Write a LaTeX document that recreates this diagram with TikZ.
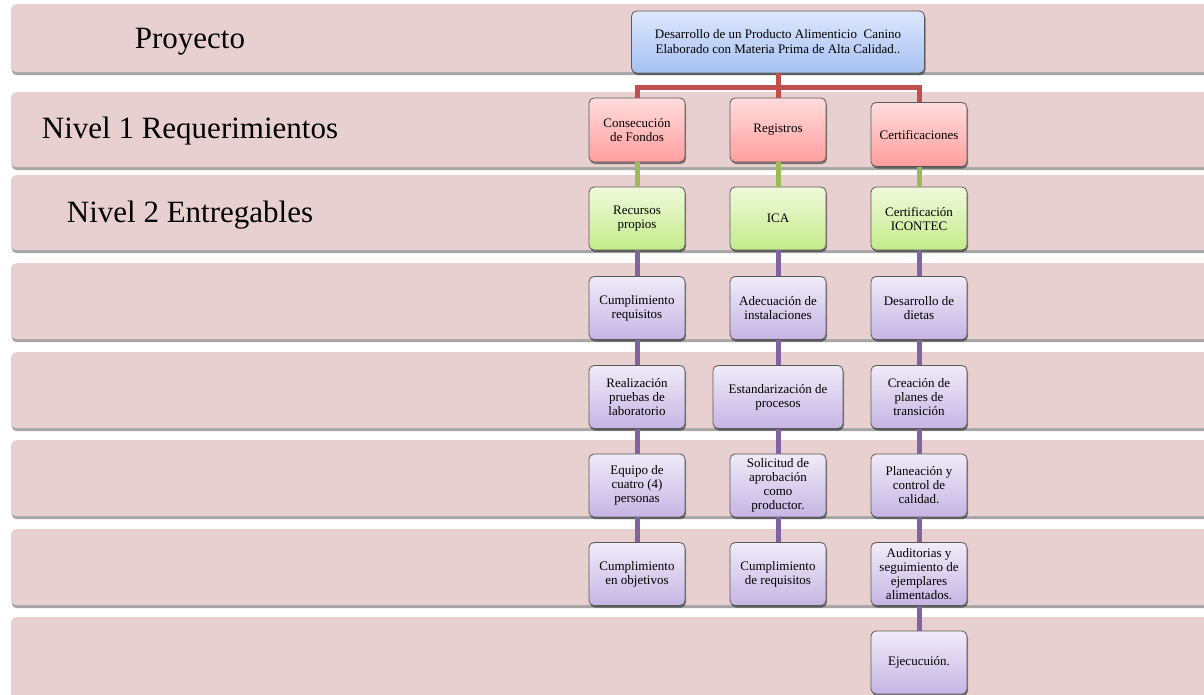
\documentclass[tikz,border=0pt]{standalone}
\usepackage{fontspec}
\setmainfont{Liberation Serif}
\usetikzlibrary{shadows,calc}
\definecolor{bandfill}{HTML}{E8D0D0}
\definecolor{bluetop}{HTML}{DDE7FC}
\definecolor{bluebot}{HTML}{A6C1F3}
\definecolor{pinktop}{HTML}{FFDCDC}
\definecolor{pinkbot}{HTML}{FF9E9E}
\definecolor{greentop}{HTML}{F0F9DC}
\definecolor{greenbot}{HTML}{C4EB8A}
\definecolor{purptop}{HTML}{F0EBF8}
\definecolor{purpbot}{HTML}{C6B5E4}
\definecolor{redln}{HTML}{C0504D}
\definecolor{greenln}{HTML}{9BBB59}
\definecolor{purpln}{HTML}{8064A2}
\begin{document}
\begin{tikzpicture}[x=1pt,y=-1pt,
  band/.style={rectangle, rounded corners=5pt, fill=bandfill, anchor=north west, inner sep=0pt, minimum width=1220pt,
    drop shadow={shadow xshift=0.5pt, shadow yshift=-3pt, opacity=0.35, fill=black}},
  lvllabel/.style={anchor=base, font=\fontsize{31}{34}\selectfont},
  box/.style={rectangle, rounded corners=5pt, draw=black!65, line width=0.8pt, align=center,
    font=\fontsize{13}{14}\selectfont, minimum width=96pt, minimum height=63pt, inner sep=2pt,
    drop shadow={shadow xshift=1pt, shadow yshift=-2pt, opacity=0.45, fill=black}},
  topbox/.style={box, top color=bluetop, bottom color=bluebot, font=\fontsize{13}{15}\selectfont,
    minimum width=293pt, minimum height=62pt},
  reqbox/.style={box, top color=pinktop, bottom color=pinkbot, minimum height=64pt},
  entbox/.style={box, top color=greentop, bottom color=greenbot},
  actbox/.style={box, top color=purptop, bottom color=purpbot},
  redline/.style={draw=redln, line width=5pt},
  greenline/.style={draw=greenln, line width=5pt},
  purpline/.style={draw=purpln, line width=5pt}
]
\useasboundingbox (0,0) rectangle (1204,694);
\clip (0,0) rectangle (1204,694);
\fill[white] (0,0) rectangle (1204,694);
% bands
\node[band, minimum height=68pt] (band1) at (11,4) {};
\node[band, minimum height=75pt] (band2) at (11,92) {};
\node[band, minimum height=75pt] (band3) at (11,175) {};
\node[band, minimum height=76pt] (band4) at (11,263) {};
\node[band, minimum height=76pt] (band5) at (11,352) {};
\node[band, minimum height=76pt] (band6) at (11,440) {};
\node[band, minimum height=76pt] (band7) at (11,529) {};
\node[band, minimum height=90pt] (band8) at (11,617) {};
% labels
\node[lvllabel] (lab1) at (190,48) {Proyecto};
\node[lvllabel] (lab2) at (190,138) {Nivel 1 Requerimientos};
\node[lvllabel] (lab3) at (190,222) {Nivel 2 Entregables};
% nodes
\node[topbox] (top) at (778,42) {Desarrollo de un Producto Alimenticio\ \ Canino\\Elaborado con Materia Prima de Alta Calidad..};
\node[reqbox] (c1) at (637,130) {Consecución\\de Fondos};
\node[reqbox] (c2) at (778,130) {Registros};
\node[reqbox] (c3) at (919,134.5) {Certificaciones};
\node[entbox] (d1) at (637,218.5) {Recursos\\propios};
\node[entbox] (d2) at (778,218.5) {ICA};
\node[entbox] (d3) at (919,218.5) {Certificación\\ICONTEC};
\node[actbox] (e1) at (637,308) {Cumplimiento\\requisitos};
\node[actbox] (e2) at (778,308) {Adecuación de\\instalaciones};
\node[actbox] (e3) at (919,308) {Desarrollo de\\dietas};
\node[actbox] (f1) at (637,397) {Realización\\pruebas de\\laboratorio};
\node[actbox, minimum width=130pt] (f2) at (778,397) {Estandarización de\\procesos};
\node[actbox] (f3) at (919,397) {Creación de\\planes de\\transición};
\node[actbox] (g1) at (637,485.5) {Equipo de\\cuatro (4)\\personas};
\node[actbox] (g2) at (778,485.5) {Solicitud de\\aprobación\\como\\productor.};
\node[actbox] (g3) at (919,485.5) {Planeación y\\control de\\calidad.};
\node[actbox] (h1) at (637,574) {Cumplimiento\\en objetivos};
\node[actbox] (h2) at (778,574) {Cumplimiento\\de requisitos};
\node[actbox] (h3) at (919,574) {Auditorias y\\seguimiento de\\ejemplares\\alimentados.};
\node[actbox] (i3) at (919,662.5) {Ejecucuión.};
% connectors
\coordinate (bus) at (778,87);
\draw[redline] (top.south) -- (bus) -| (c1.north);
\draw[redline] (bus) -| (c3.north);
\draw[redline] (bus) -- (c2.north);
\draw[greenline] (c1.south) -- (d1.north);
\draw[greenline] (c2.south) -- (d2.north);
\draw[greenline] (c3.south) -- (d3.north);
\draw[purpline] (d1.south) -- (e1.north);
\draw[purpline] (e1.south) -- (f1.north);
\draw[purpline] (f1.south) -- (g1.north);
\draw[purpline] (g1.south) -- (h1.north);
\draw[purpline] (d2.south) -- (e2.north);
\draw[purpline] (e2.south) -- (f2.north);
\draw[purpline] (f2.south) -- (g2.north);
\draw[purpline] (g2.south) -- (h2.north);
\draw[purpline] (d3.south) -- (e3.north);
\draw[purpline] (e3.south) -- (f3.north);
\draw[purpline] (f3.south) -- (g3.north);
\draw[purpline] (g3.south) -- (h3.north);
\draw[purpline] (h3.south) -- (i3.north);
\end{tikzpicture}
\end{document}
